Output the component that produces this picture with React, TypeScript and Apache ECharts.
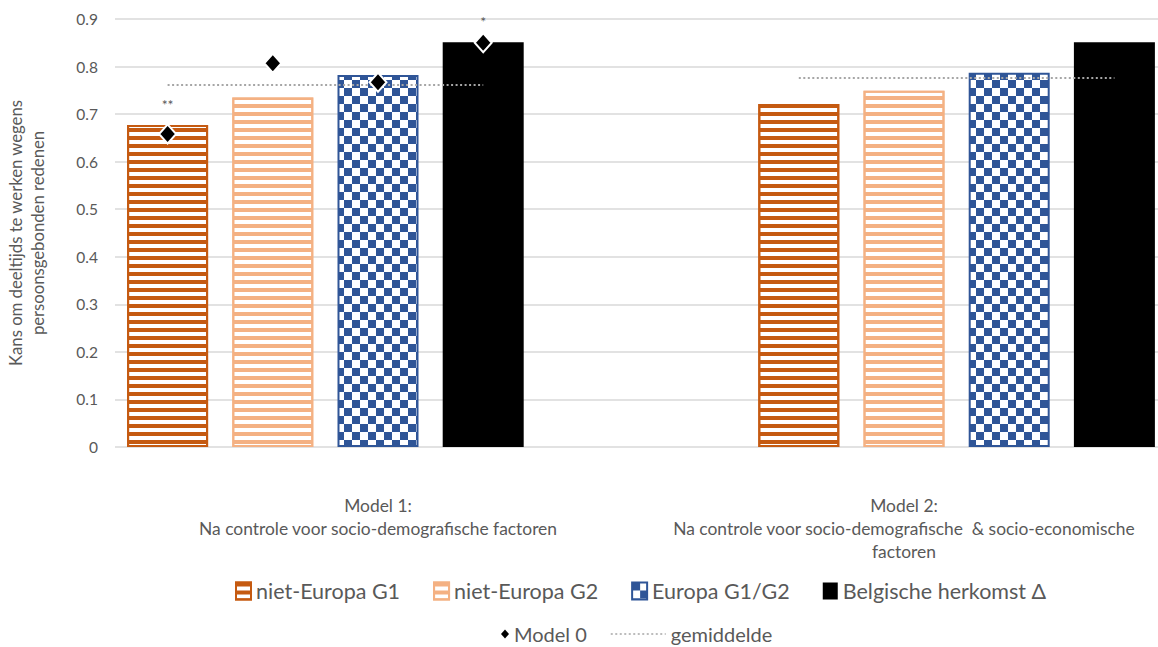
import React, { useEffect, useRef } from "react";
import * as echarts from "echarts";

// ---- data ----
const models = [
  "Model 1:\nNa controle voor socio-demografische factoren",
  "Model 2:\nNa controle voor socio-demografische  & socio-economische\nfactoren",
];
const seriesNames = ["niet-Europa G1", "niet-Europa G2", "Europa G1/G2", "Belgische herkomst Δ"];
const nietEuropaG1 = [0.677, 0.721];
const nietEuropaG2 = [0.735, 0.749];
const europaG1G2 = [0.782, 0.787];
const belgischeHerkomst = [0.851, 0.851];
// Model 0 estimates (shown for Model 1 only), in series order
const model0 = [0.658, 0.807, 0.767, 0.85];
const significance = ["**", "", "", "*"];
const gemiddelde = [0.761, 0.776];
const yMin = 0;
const yMax = 0.9;
const yInterval = 0.1;

// ---- layout (slot positions of groups on the category axis) ----
const GROUP_START = [0, 6];
const SLOT_COUNT = 10;

const FONT = "Lato, 'Open Sans', sans-serif";
const GREY = "#595959";

function emptySlots(): any[] {
  return Array.from({ length: SLOT_COUNT }, () => "-");
}

function barSlots(values: number[], seriesIndex: number) {
  const arr = emptySlots();
  values.forEach((v, g) => {
    arr[GROUP_START[g] + seriesIndex] = v;
  });
  return arr;
}

function checkerCanvas(color: string, size: number) {
  const c = document.createElement("canvas");
  c.width = size * 2;
  c.height = size * 2;
  const ctx = c.getContext("2d")!;
  ctx.fillStyle = "#ffffff";
  ctx.fillRect(0, 0, size * 2, size * 2);
  ctx.fillStyle = color;
  ctx.fillRect(0, 0, size, size);
  ctx.fillRect(size, size, size, size);
  return c;
}

const barValues = [nietEuropaG1, nietEuropaG2, europaG1G2, belgischeHerkomst];

function buildBarStyles(): any[] {
  return [
    {
      color: "#ffffff",
      borderColor: "#C55A11",
      borderWidth: 2,
      decal: {
        symbol: "rect",
        symbolSize: 1,
        dashArrayX: [1, 0],
        dashArrayY: [4, 4],
        rotation: 0,
        color: "#C55A11",
      },
    },
    {
      color: "#ffffff",
      borderColor: "#F4B183",
      borderWidth: 2,
      decal: {
        symbol: "rect",
        symbolSize: 1,
        dashArrayX: [1, 0],
        dashArrayY: [4, 4],
        rotation: 0,
        color: "#F4B183",
      },
    },
    {
      color: { image: checkerCanvas("#2F5597", 8), repeat: "repeat" },
      borderColor: "#2F5597",
      borderWidth: 2,
    },
    { color: "#000000", borderWidth: 0 },
  ];
}

const labelDistance = [12, 0, 0, 4];

export default function App() {
  const ref = useRef<HTMLDivElement>(null);

  useEffect(() => {
    if (!ref.current) return;
    const chart = echarts.init(ref.current, undefined, { renderer: "svg" });
    const barStyles = buildBarStyles();

    const gemData = emptySlots();
    gemiddelde.forEach((v, g) => {
      for (let i = 0; i < seriesNames.length; i++) gemData[GROUP_START[g] + i] = v;
    });

    const model0Data = emptySlots();
    model0.forEach((v, i) => {
      model0Data[GROUP_START[0] + i] = {
        value: v,
        label: {
          show: significance[i] !== "",
          formatter: significance[i],
          position: "top",
          distance: labelDistance[i],
          color: GREY,
          fontSize: 14,
          fontFamily: FONT,
        },
      };
    });

    const option: any = {
      animation: false,
      backgroundColor: "#ffffff",
      textStyle: { fontFamily: FONT },
      grid: {
        left: 115,
        top: 19,
        width: 1052,
        height: 428,
        containLabel: false,
        outerBoundsMode: "none",
      },
      xAxis: [
        {
          type: "category",
          data: Array.from({ length: SLOT_COUNT }, (_, i) => String(i)),
          axisLine: { show: false },
          axisTick: { show: false },
          axisLabel: { show: false },
          splitLine: { show: false },
        },
        {
          type: "category",
          data: models,
          position: "bottom",
          axisLine: { show: false },
          axisTick: { show: false },
          splitLine: { show: false },
          axisLabel: {
            margin: 47,
            fontSize: 17.4,
            lineHeight: 23,
            color: GREY,
            fontFamily: FONT,
            interval: 0,
          },
        },
      ],
      yAxis: {
        type: "value",
        min: yMin,
        max: yMax,
        interval: yInterval,
        name: "Kans om deeltijds te werken wegens\npersoonsgebonden redenen",
        nameLocation: "middle",
        nameGap: 66,
        nameTextStyle: { fontSize: 16.7, lineHeight: 22, color: GREY, fontFamily: FONT },
        axisLine: { show: false },
        axisTick: { show: false },
        axisLabel: { margin: 17, fontSize: 15.5, color: GREY, fontFamily: FONT },
        splitLine: { lineStyle: { color: "#D9D9D9", width: 1.5 } },
      },
      legend: [
        {
          data: seriesNames,
          icon: "rect",
          left: 230,
          top: 575,
          itemWidth: 15,
          itemHeight: 17,
          itemGap: 33,
          textStyle: { fontSize: 21.5, color: GREY, fontFamily: FONT },
        },
        {
          data: ["Model 0"],
          left: 496,
          top: 619,
          itemWidth: 8,
          itemHeight: 9,
          itemStyle: { borderWidth: 0, opacity: 1, color: "#000000" },
          textStyle: { fontSize: 20, color: GREY, fontFamily: FONT },
        },
        {
          data: ["gemiddelde"],
          left: 605,
          top: 619,
          itemWidth: 55,
          itemHeight: 16,
          itemStyle: { opacity: 0 },
          lineStyle: { width: 1.5 },
          textStyle: { fontSize: 20, color: GREY, fontFamily: FONT },
        },
      ],
      series: [
        ...barValues.map((vals, i) => ({
          type: "bar",
          name: seriesNames[i],
          xAxisIndex: 0,
          data: barSlots(vals, i),
          barWidth: 81,
          barGap: "-100%",
          itemStyle: barStyles[i],
          z: 2,
        })),
        {
          type: "line",
          name: "gemiddelde",
          xAxisIndex: 0,
          data: gemData,
          symbol: "none",
          connectNulls: false,
          lineStyle: { color: "#A6A6A6", width: 2, type: [2, 2.5] },
          itemStyle: { color: "#A6A6A6" },
          z: 3,
        },
        {
          type: "scatter",
          name: "Model 0",
          xAxisIndex: 0,
          data: model0Data,
          symbol: "diamond",
          symbolSize: [17, 19],
          itemStyle: { color: "#000000", borderColor: "#ffffff", borderWidth: 2, opacity: 1 },
          z: 4,
        },
      ],
    };

    chart.setOption(option);
    return () => chart.dispose();
  }, []);

  return (
    <div
      ref={ref}
      style={{ position: "absolute", left: 0, top: 0, width: 1158, height: 647, background: "#fff" }}
    />
  );
}
